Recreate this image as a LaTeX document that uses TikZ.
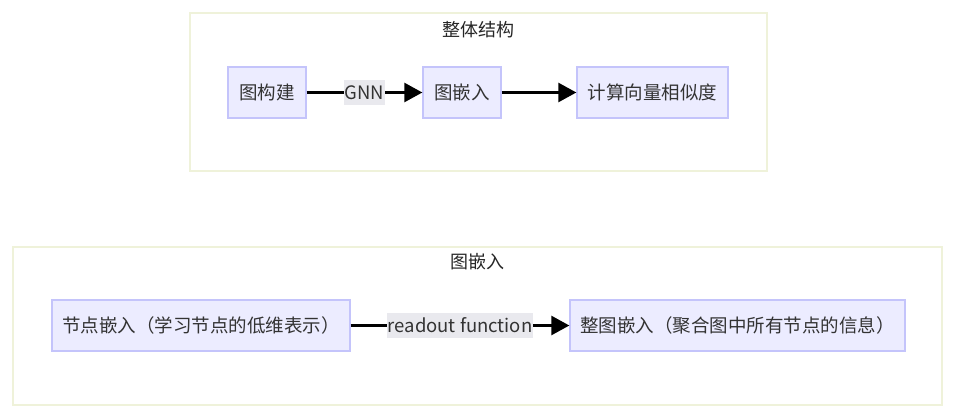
\documentclass[tikz,border=0pt]{standalone}
\usepackage{fontspec}
\setmainfont{Noto Sans CJK SC}
\usetikzlibrary{arrows.meta}
\definecolor{nodefill}{HTML}{ECECFF}
\definecolor{nodeline}{HTML}{C4C4FB}
\definecolor{clusterline}{HTML}{EFF2DA}
\definecolor{labelbg}{HTML}{E9E9EE}
\definecolor{txt}{HTML}{333333}
\tikzset{
  box/.style={draw=nodeline, fill=nodefill, line width=1.3pt, minimum height=51pt, inner sep=0pt,
    text=txt, font=\fontsize{18.5}{22}\selectfont},
  cluster/.style={draw=clusterline, fill=white, line width=1.8pt, minimum height=158pt, inner sep=0pt},
  ctitle/.style={text=black!85, font=\fontsize{18}{22}\selectfont, inner sep=0pt},
  elabel/.style={fill=labelbg, text=txt, font=\fontsize{18.5}{22}\selectfont, inner sep=1pt, minimum height=25pt},
  conn/.style={line width=2.6pt, black, -{Triangle[length=18pt,width=19pt]}},
}
\begin{document}
\begin{tikzpicture}[x=1pt,y=-1pt]
\useasboundingbox (0,0) rectangle (957,417);
% clusters
\node[cluster, minimum width=577pt] (c1) at (478.5,92) {};
\node[cluster, minimum width=929pt] (c2) at (477.5,326) {};
\node[ctitle] (t1) at (478.5,30) {整体结构};
\node[ctitle] (t2) at (477.5,262) {图嵌入};
% top nodes
\node[box, minimum width=78pt] (a) at (267,92.5) {图构建};
\node[box, minimum width=78pt] (b) at (462,92.5) {图嵌入};
\node[box, minimum width=151pt] (c) at (652.5,92.5) {计算向量相似度};
% bottom nodes
\node[box, minimum width=298pt] (d) at (201,325.5) {节点嵌入（学习节点的低维表示）};
\node[box, minimum width=335pt] (e) at (737.5,325.5) {整图嵌入（聚合图中所有节点的信息）};
% connectors
\draw[conn] (a) -- node[elabel] (l1) {GNN} (b);
\draw[conn] (b) -- (c);
\draw[conn] (d) -- node[elabel] (l2) {readout function} (e);
\end{tikzpicture}
\end{document}
